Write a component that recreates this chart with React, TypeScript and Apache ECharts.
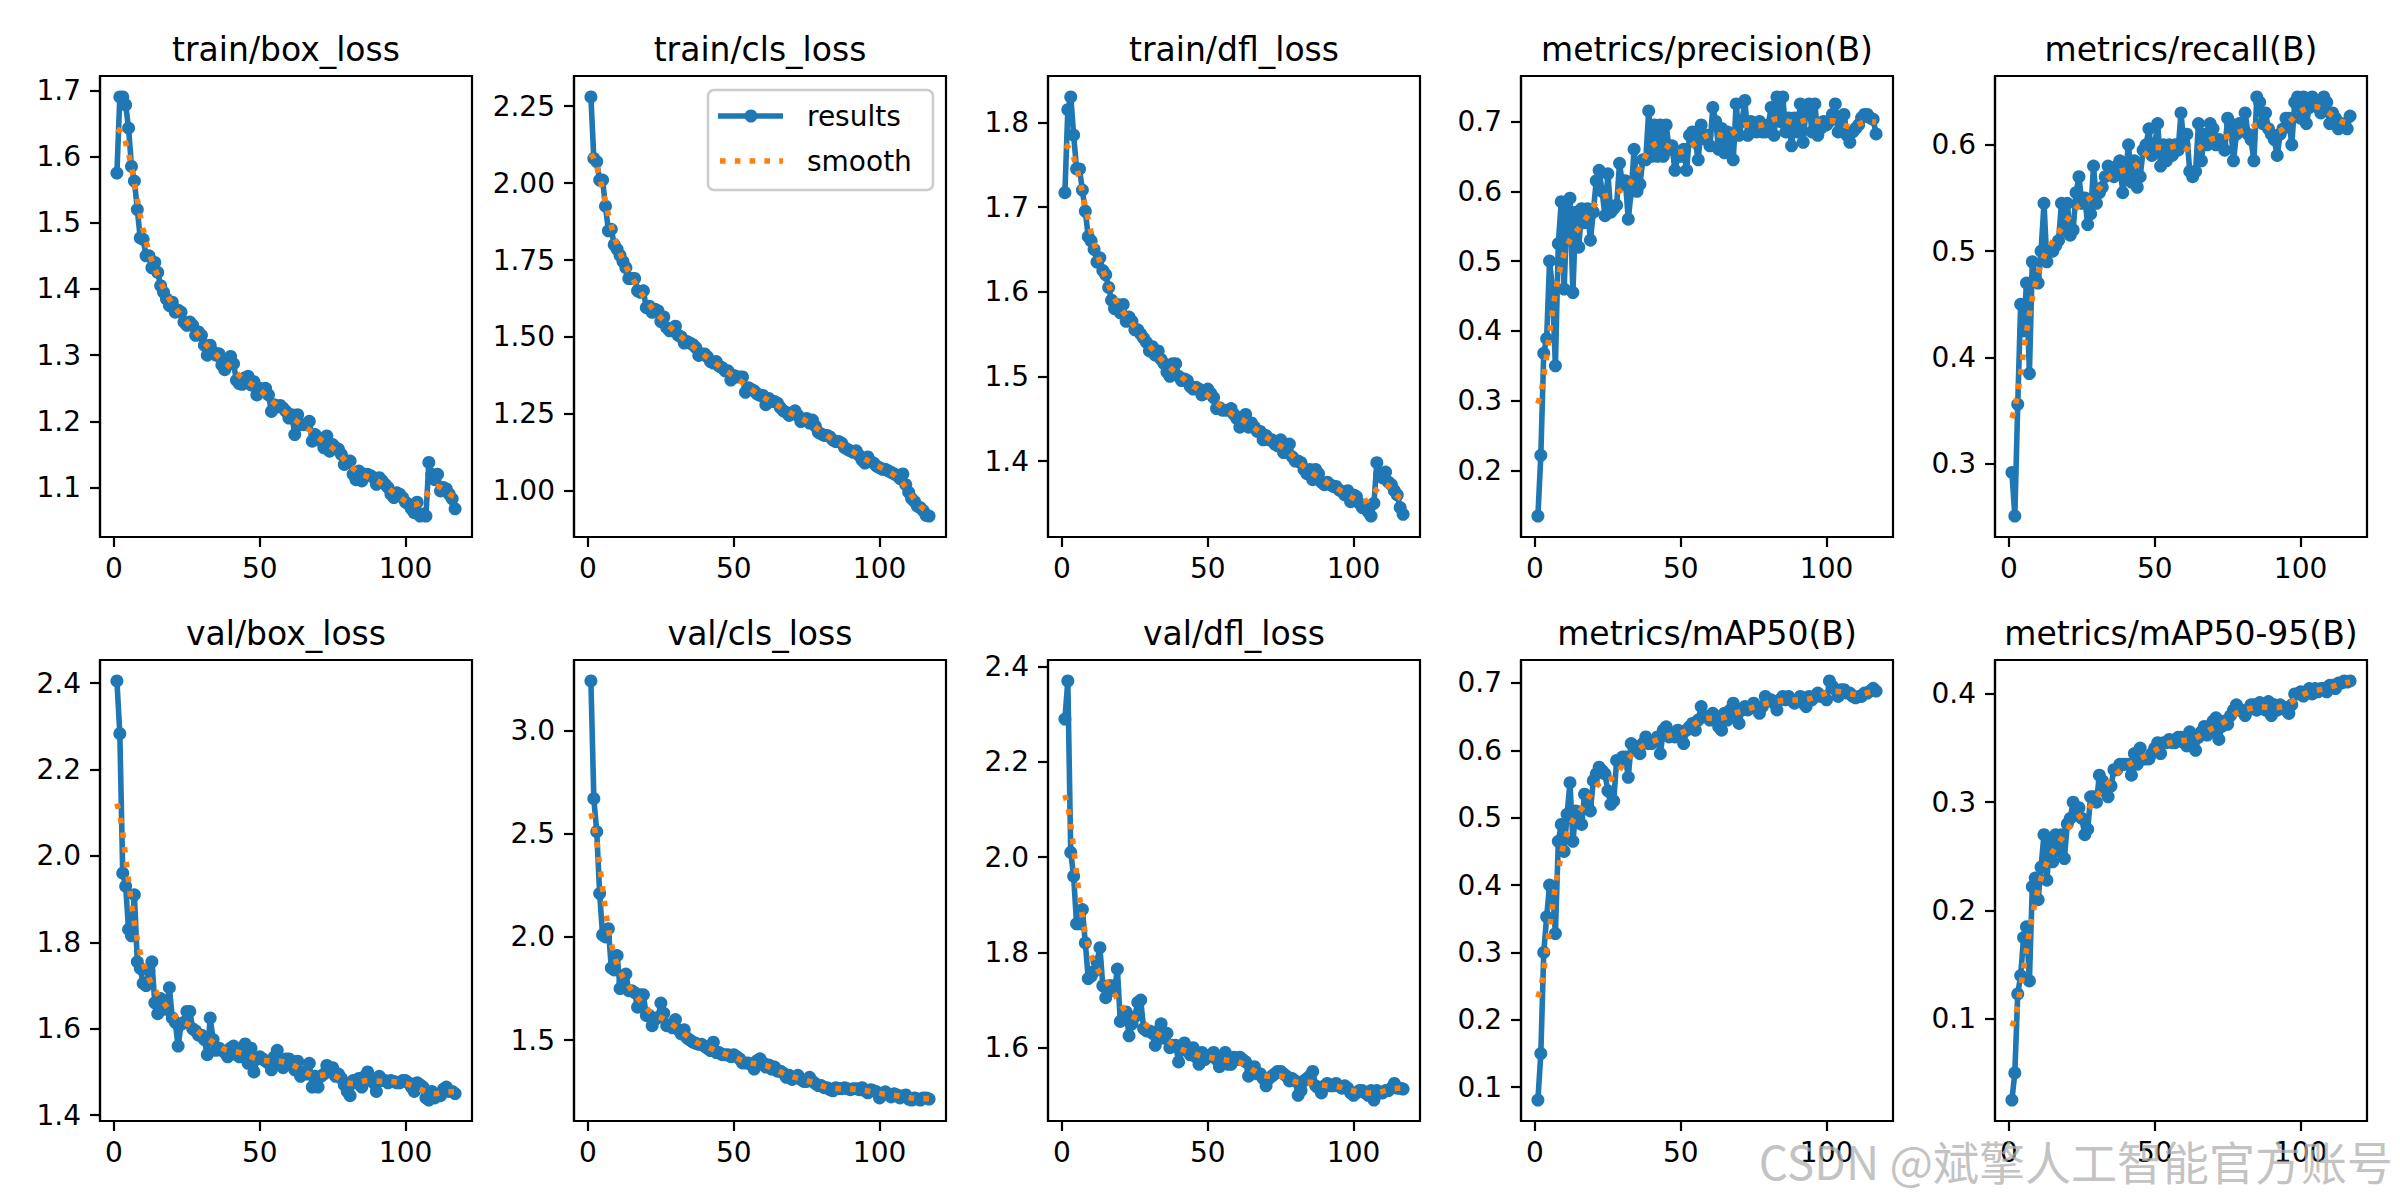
import React, { useEffect, useRef } from "react";
import * as echarts from "echarts";

// ---------- data ----------
const EPOCH_COUNT = 117;
const EPOCHS: number[] = Array.from({ length: EPOCH_COUNT }, (_, i) => i + 1);

const trainBoxLoss = [
  1.575, 1.69, 1.69, 1.678, 1.643, 1.585, 1.563, 1.52, 1.477, 1.475,
  1.45, 1.45, 1.432, 1.44, 1.425, 1.405, 1.395, 1.385, 1.375, 1.38,
  1.365, 1.368, 1.365, 1.35, 1.345, 1.35, 1.345, 1.33, 1.335, 1.33,
  1.315, 1.3, 1.315, 1.305, 1.3, 1.302, 1.285, 1.278, 1.29, 1.298,
  1.287, 1.262, 1.257, 1.256, 1.266, 1.268, 1.255, 1.26, 1.24, 1.25,
  1.248, 1.25, 1.24, 1.215, 1.225, 1.222, 1.224, 1.22, 1.215, 1.205,
  1.21, 1.18, 1.21, 1.195, 1.195, 1.195, 1.2, 1.17, 1.18, 1.175,
  1.17, 1.16, 1.178, 1.155, 1.165, 1.16, 1.158, 1.15, 1.135, 1.14,
  1.14, 1.12, 1.112, 1.125, 1.11, 1.12, 1.12, 1.118, 1.115, 1.105,
  1.115, 1.11, 1.105, 1.1, 1.09, 1.085, 1.092, 1.09, 1.085, 1.078,
  1.075, 1.068, 1.062, 1.078, 1.057, 1.06, 1.057, 1.138, 1.12, 1.112,
  1.12, 1.095, 1.1, 1.098, 1.09, 1.083, 1.068,
];

const trainClsLoss = [
  2.28, 2.08, 2.07, 2.01, 2.01, 1.925, 1.845, 1.85, 1.8, 1.785,
  1.765, 1.745, 1.725, 1.69, 1.69, 1.69, 1.65, 1.645, 1.65, 1.595,
  1.6, 1.58, 1.59, 1.585, 1.55, 1.565, 1.53, 1.52, 1.525, 1.535,
  1.505, 1.5, 1.48, 1.485, 1.48, 1.475, 1.465, 1.44, 1.445, 1.445,
  1.435, 1.42, 1.415, 1.42, 1.405, 1.4, 1.39, 1.39, 1.36, 1.375,
  1.37, 1.37, 1.37, 1.32, 1.335, 1.33, 1.325, 1.315, 1.31, 1.31,
  1.28, 1.3, 1.29, 1.29, 1.285, 1.27, 1.26, 1.255, 1.245, 1.25,
  1.26, 1.245, 1.225, 1.23, 1.235, 1.22, 1.23, 1.21, 1.19, 1.185,
  1.18, 1.18, 1.175, 1.165, 1.16, 1.16, 1.155, 1.14, 1.135, 1.13,
  1.125, 1.13, 1.115, 1.1, 1.09, 1.11, 1.095, 1.09, 1.08, 1.075,
  1.07, 1.07, 1.065, 1.06, 1.055, 1.05, 1.04, 1.055, 1.02, 0.995,
  0.975, 0.965, 0.95, 0.945, 0.935, 0.92, 0.918,
];

const trainDflLoss = [
  1.717, 1.815, 1.83, 1.785, 1.745, 1.745, 1.72, 1.695, 1.665, 1.66,
  1.65, 1.635, 1.64, 1.625, 1.62, 1.605, 1.59, 1.58, 1.585, 1.575,
  1.585, 1.565, 1.57, 1.565, 1.555, 1.555, 1.55, 1.545, 1.54, 1.53,
  1.535, 1.525, 1.53, 1.52, 1.515, 1.505, 1.5, 1.515, 1.515, 1.5,
  1.495, 1.497, 1.495, 1.488, 1.485, 1.487, 1.485, 1.478, 1.48, 1.485,
  1.48, 1.475, 1.462, 1.463, 1.46, 1.46, 1.46, 1.462, 1.455, 1.45,
  1.44, 1.452, 1.455, 1.44, 1.445, 1.44, 1.435, 1.435, 1.425, 1.43,
  1.425, 1.425, 1.42, 1.418, 1.425, 1.41, 1.415, 1.42, 1.405, 1.4,
  1.4, 1.398, 1.39, 1.385, 1.39, 1.378, 1.39, 1.385, 1.375, 1.372,
  1.375, 1.372, 1.37, 1.37, 1.366, 1.364, 1.36, 1.365, 1.352, 1.36,
  1.358, 1.35, 1.345, 1.345, 1.34, 1.335, 1.35, 1.398, 1.385, 1.38,
  1.387, 1.375, 1.372, 1.365, 1.36, 1.345, 1.337,
];

const precisionB = [
  0.135, 0.222, 0.368, 0.389, 0.5, 0.46, 0.35, 0.525, 0.585, 0.46,
  0.575, 0.59, 0.455, 0.57, 0.52, 0.575, 0.555, 0.575, 0.53, 0.57,
  0.615, 0.63, 0.6, 0.565, 0.625, 0.57, 0.575, 0.58, 0.64, 0.61,
  0.615, 0.56, 0.6, 0.66, 0.6, 0.61, 0.645, 0.645, 0.715, 0.65,
  0.695, 0.65, 0.695, 0.65, 0.695, 0.66, 0.665, 0.63, 0.65, 0.65,
  0.66, 0.63, 0.68, 0.685, 0.67, 0.645, 0.695, 0.675, 0.68, 0.665,
  0.72, 0.7, 0.66, 0.69, 0.655, 0.685, 0.67, 0.645, 0.725, 0.68,
  0.7, 0.73, 0.68, 0.7, 0.69, 0.685, 0.7, 0.685, 0.685, 0.695,
  0.72, 0.68, 0.735, 0.7, 0.735, 0.685, 0.705, 0.665, 0.705, 0.685,
  0.725, 0.67, 0.72, 0.725, 0.685, 0.725, 0.68, 0.69, 0.7, 0.695,
  0.7, 0.71, 0.725, 0.685, 0.7, 0.71, 0.68, 0.67, 0.685, 0.69,
  0.695, 0.705, 0.71, 0.71, 0.705, 0.703, 0.682,
];

const recallB = [
  0.292, 0.251, 0.356, 0.45, 0.425, 0.47, 0.385, 0.49, 0.475, 0.47,
  0.5, 0.545, 0.49, 0.5, 0.5, 0.505, 0.51, 0.545, 0.52, 0.545,
  0.515, 0.52, 0.555, 0.57, 0.545, 0.55, 0.525, 0.535, 0.58, 0.545,
  0.555, 0.56, 0.57, 0.58, 0.575, 0.57, 0.58, 0.585, 0.555, 0.575,
  0.6, 0.565, 0.585, 0.56, 0.57, 0.595, 0.6, 0.615, 0.59, 0.6,
  0.62, 0.58, 0.6, 0.585, 0.6, 0.59, 0.6, 0.595, 0.63, 0.6,
  0.61, 0.575, 0.57, 0.575, 0.62, 0.585, 0.61, 0.6, 0.62, 0.615,
  0.6, 0.605, 0.6, 0.595, 0.625, 0.62, 0.585, 0.61, 0.62, 0.615,
  0.63, 0.61, 0.605, 0.585, 0.645, 0.64, 0.62, 0.63, 0.615, 0.61,
  0.605, 0.59, 0.61, 0.615, 0.625, 0.625, 0.6, 0.64, 0.645, 0.625,
  0.645, 0.62, 0.635, 0.645, 0.64, 0.635, 0.63, 0.645, 0.64, 0.62,
  0.63, 0.625, 0.615, 0.62, 0.618, 0.615, 0.627,
];

const valBoxLoss = [
  2.405, 2.283, 1.96, 1.93, 1.83, 1.815, 1.91, 1.755, 1.74, 1.705,
  1.7, 1.735, 1.755, 1.66, 1.635, 1.67, 1.665, 1.645, 1.695, 1.625,
  1.615, 1.56, 1.61, 1.615, 1.64, 1.64, 1.6, 1.595, 1.585, 1.585,
  1.575, 1.54, 1.625, 1.575, 1.55, 1.555, 1.55, 1.545, 1.535, 1.555,
  1.56, 1.54, 1.535, 1.555, 1.565, 1.52, 1.555, 1.5, 1.53, 1.535,
  1.53, 1.525, 1.52, 1.505, 1.535, 1.55, 1.52, 1.51, 1.53, 1.53,
  1.525, 1.505, 1.525, 1.49, 1.5, 1.495, 1.52, 1.465, 1.49, 1.465,
  1.49, 1.495, 1.515, 1.5, 1.51, 1.49, 1.495, 1.485, 1.47, 1.455,
  1.445, 1.48, 1.475, 1.485, 1.465, 1.49, 1.5, 1.485, 1.475, 1.455,
  1.49, 1.48, 1.48, 1.475, 1.48, 1.478, 1.475, 1.475, 1.48, 1.48,
  1.475, 1.465, 1.455, 1.475, 1.47, 1.465, 1.44, 1.435, 1.455, 1.44,
  1.445, 1.445, 1.46, 1.465, 1.455, 1.455, 1.45,
];

const valClsLoss = [
  3.24, 2.67, 2.51, 2.21, 2.01, 2.0, 2.04, 1.85, 1.84, 1.91,
  1.75, 1.78, 1.82, 1.74, 1.74, 1.73, 1.66, 1.72, 1.72, 1.62,
  1.62, 1.57, 1.6, 1.61, 1.68, 1.63, 1.57, 1.575, 1.56, 1.6,
  1.55, 1.53, 1.55, 1.51, 1.5, 1.49, 1.485, 1.48, 1.48, 1.47,
  1.46, 1.45, 1.49, 1.44, 1.44, 1.43, 1.43, 1.43, 1.42, 1.43,
  1.42, 1.41, 1.39, 1.39, 1.39, 1.38, 1.36, 1.4, 1.41, 1.39,
  1.37, 1.38, 1.36, 1.37, 1.35, 1.35, 1.34, 1.32, 1.33, 1.31,
  1.32, 1.33, 1.31, 1.3, 1.3, 1.32, 1.3, 1.29, 1.28, 1.28,
  1.27, 1.27, 1.26, 1.255, 1.27, 1.265, 1.265, 1.27, 1.265, 1.26,
  1.265, 1.265, 1.26, 1.27, 1.255, 1.245, 1.26, 1.255, 1.25, 1.22,
  1.24, 1.25, 1.235, 1.225, 1.24, 1.235, 1.22, 1.23, 1.235, 1.215,
  1.21, 1.22, 1.215, 1.21, 1.22, 1.22, 1.215,
];

const valDflLoss = [
  2.29, 2.37, 2.01, 1.96, 1.86, 1.86, 1.89, 1.82, 1.745, 1.75,
  1.76, 1.78, 1.81, 1.73, 1.705, 1.73, 1.73, 1.72, 1.765, 1.655,
  1.66, 1.675, 1.625, 1.65, 1.665, 1.695, 1.7, 1.64, 1.635, 1.635,
  1.63, 1.605, 1.635, 1.65, 1.62, 1.63, 1.6, 1.605, 1.605, 1.57,
  1.595, 1.61, 1.595, 1.585, 1.6, 1.58, 1.565, 1.59, 1.575, 1.58,
  1.585, 1.59, 1.575, 1.56, 1.57, 1.59, 1.565, 1.565, 1.58, 1.575,
  1.58, 1.575, 1.57, 1.54, 1.555, 1.56, 1.545, 1.545, 1.535, 1.52,
  1.535, 1.54, 1.545, 1.55, 1.55, 1.545, 1.54, 1.53, 1.535, 1.53,
  1.5, 1.51, 1.53, 1.535, 1.54, 1.55, 1.52, 1.515, 1.505, 1.52,
  1.525, 1.52, 1.52, 1.525, 1.52, 1.515, 1.52, 1.515, 1.505, 1.5,
  1.505, 1.51, 1.51, 1.505, 1.5, 1.51, 1.49, 1.51, 1.505, 1.505,
  1.51, 1.51, 1.515, 1.525, 1.515, 1.515, 1.513,
];

const mAP50B = [
  0.081, 0.15, 0.3, 0.353, 0.4, 0.395, 0.328, 0.465, 0.49, 0.45,
  0.505, 0.552, 0.465, 0.51, 0.5, 0.49, 0.535, 0.52, 0.51, 0.555,
  0.565, 0.575, 0.57, 0.565, 0.54, 0.52, 0.525, 0.585, 0.585, 0.59,
  0.59, 0.56, 0.61, 0.6, 0.605, 0.595, 0.61, 0.62, 0.61, 0.61,
  0.615, 0.62, 0.595, 0.63, 0.635, 0.62, 0.625, 0.62, 0.63, 0.62,
  0.61, 0.63, 0.635, 0.64, 0.63, 0.645, 0.665, 0.65, 0.65, 0.645,
  0.655, 0.65, 0.635, 0.63, 0.655, 0.645, 0.66, 0.67, 0.655, 0.64,
  0.66, 0.665, 0.66, 0.665, 0.67, 0.665, 0.655, 0.665, 0.68, 0.675,
  0.675, 0.67, 0.66, 0.675, 0.68, 0.675, 0.68, 0.675, 0.67, 0.675,
  0.68, 0.67, 0.665, 0.68, 0.675, 0.68, 0.685, 0.68, 0.68, 0.675,
  0.703, 0.695, 0.69, 0.68, 0.69, 0.69, 0.685, 0.685, 0.68, 0.678,
  0.68, 0.68, 0.685, 0.685, 0.688, 0.692, 0.688,
];

const mAP5095B = [
  0.025, 0.05, 0.123, 0.14, 0.175, 0.185, 0.135, 0.222, 0.23, 0.21,
  0.24, 0.27, 0.228, 0.265, 0.245, 0.27, 0.255, 0.27, 0.248, 0.28,
  0.285, 0.3, 0.29, 0.295, 0.285, 0.27, 0.275, 0.305, 0.305, 0.3,
  0.325, 0.32, 0.31, 0.305, 0.315, 0.33, 0.33, 0.335, 0.335, 0.335,
  0.335, 0.325, 0.345, 0.335, 0.35, 0.34, 0.34, 0.34, 0.345, 0.35,
  0.355, 0.345, 0.355, 0.355, 0.358, 0.355, 0.355, 0.36, 0.36, 0.355,
  0.352, 0.365, 0.355, 0.348, 0.36, 0.365, 0.37, 0.362, 0.365, 0.375,
  0.378, 0.358, 0.37, 0.375, 0.372, 0.38, 0.385, 0.39, 0.385, 0.385,
  0.38, 0.385, 0.39, 0.39, 0.385, 0.392, 0.39, 0.385, 0.393, 0.38,
  0.39, 0.385, 0.39, 0.388, 0.385, 0.382, 0.39, 0.4, 0.4, 0.402,
  0.398, 0.402, 0.405, 0.4, 0.405, 0.402, 0.405, 0.405, 0.402, 0.408,
  0.408, 0.405, 0.41, 0.41, 0.412, 0.411, 0.412,
];

const PANEL_TITLES = [
  "train/box_loss", "train/cls_loss", "train/dfl_loss", "metrics/precision(B)", "metrics/recall(B)",
  "val/box_loss", "val/cls_loss", "val/dfl_loss", "metrics/mAP50(B)", "metrics/mAP50-95(B)",
];
const PANEL_VALUES = [
  trainBoxLoss, trainClsLoss, trainDflLoss, precisionB, recallB,
  valBoxLoss, valClsLoss, valDflLoss, mAP50B, mAP5095B,
];
const Y_TICKS = [
  [1.1, 1.2, 1.3, 1.4, 1.5, 1.6, 1.7],
  [1.0, 1.25, 1.5, 1.75, 2.0, 2.25],
  [1.4, 1.5, 1.6, 1.7, 1.8],
  [0.2, 0.3, 0.4, 0.5, 0.6, 0.7],
  [0.3, 0.4, 0.5, 0.6],
  [1.4, 1.6, 1.8, 2.0, 2.2, 2.4],
  [1.5, 2.0, 2.5, 3.0],
  [1.6, 1.8, 2.0, 2.2, 2.4],
  [0.1, 0.2, 0.3, 0.4, 0.5, 0.6, 0.7],
  [0.1, 0.2, 0.3, 0.4],
];
const Y_DECIMALS = [1, 2, 1, 1, 1, 1, 1, 1, 1, 1];
const X_TICKS = [0, 50, 100];
const LEGEND_LABELS = ["results", "smooth"];
const WATERMARK = "CSDN @斌擎人工智能官方账号";

// ---------- layout / style ----------
const W = 2400;
const H = 1200;
const COL_LEFT = [100, 574, 1048, 1521, 1995];
const ROW_TOP = [76, 660];
const BOX_W = 372;
const BOX_H = 461;
const BLUE = "#1f77b4";
const ORANGE = "#ff7f0e";
const FONT = "DejaVu Sans";
const LW = 5.6;

// same smoothing the original plotting code applies (gaussian, sigma 3, reflect edges)
function gaussianSmooth(y: number[], sigma = 3): number[] {
  const r = Math.round(4 * sigma);
  const w: number[] = [];
  let s = 0;
  for (let k = -r; k <= r; k++) {
    const v = Math.exp(-0.5 * (k / sigma) * (k / sigma));
    w.push(v);
    s += v;
  }
  const n = y.length;
  const idx = (i: number) => {
    while (i < 0 || i >= n) {
      if (i < 0) i = -i - 1;
      if (i >= n) i = 2 * n - i - 1;
    }
    return i;
  };
  return y.map((_, i) => {
    let acc = 0;
    for (let k = -r; k <= r; k++) acc += w[k + r] * y[idx(i + k)];
    return acc / s;
  });
}

function buildOption() {
  const grid: any[] = [];
  const xAxis: any[] = [];
  const yAxis: any[] = [];
  const series: any[] = [];
  const graphic: any[] = [];

  const xMin = EPOCHS[0] - 0.05 * (EPOCHS[EPOCHS.length - 1] - EPOCHS[0]);
  const xMax = EPOCHS[EPOCHS.length - 1] + 0.05 * (EPOCHS[EPOCHS.length - 1] - EPOCHS[0]);

  PANEL_VALUES.forEach((vals, i) => {
    const col = i % 5;
    const row = Math.floor(i / 5);
    const left = COL_LEFT[col];
    const top = ROW_TOP[row];
    const sm = gaussianSmooth(vals);
    const all = vals.concat(sm);
    const lo = Math.min(...all);
    const hi = Math.max(...all);
    const pad = 0.05 * (hi - lo);
    const dec = Y_DECIMALS[i];

    grid.push({
      left,
      top,
      width: BOX_W,
      height: BOX_H,
      show: true,
      borderColor: "#000",
      borderWidth: 2.2,
      backgroundColor: "#fff",
      containLabel: false,
    });
    xAxis.push({
      gridIndex: i,
      type: "value",
      min: xMin,
      max: xMax,
      axisLine: { show: true, onZero: false, lineStyle: { color: "#000", width: 2.2 } },
      axisTick: { show: true, length: 10, lineStyle: { color: "#000", width: 2.2 }, customValues: X_TICKS },
      axisLabel: { show: true, customValues: X_TICKS, color: "#000", fontSize: 28, fontFamily: FONT, margin: 17 },
      splitLine: { show: false },
    });
    yAxis.push({
      gridIndex: i,
      type: "value",
      min: lo - pad,
      max: hi + pad,
      axisLine: { show: true, onZero: false, lineStyle: { color: "#000", width: 2.2 } },
      axisTick: { show: true, length: 10, lineStyle: { color: "#000", width: 2.2 }, customValues: Y_TICKS[i] },
      axisLabel: {
        show: true,
        customValues: Y_TICKS[i],
        color: "#000",
        fontSize: 28,
        fontFamily: FONT,
        margin: 19,
        formatter: (v: number) => v.toFixed(dec),
      },
      splitLine: { show: false },
    });
    series.push({
      name: LEGEND_LABELS[0],
      type: "line",
      xAxisIndex: i,
      yAxisIndex: i,
      data: EPOCHS.map((e, j) => [e, vals[j]]),
      symbol: "circle",
      symbolSize: 13,
      showSymbol: true,
      showAllSymbol: true,
      lineStyle: { color: BLUE, width: LW },
      itemStyle: { color: BLUE, borderWidth: 0 },
      silent: true,
      z: 2,
    });
    series.push({
      name: LEGEND_LABELS[1],
      type: "line",
      xAxisIndex: i,
      yAxisIndex: i,
      data: EPOCHS.map((e, j) => [e, sm[j]]),
      symbol: "none",
      lineStyle: { color: ORANGE, width: LW, type: [5.6, 9.2], cap: "butt" },
      silent: true,
      z: 3,
    });
    graphic.push({
      type: "text",
      x: left + BOX_W / 2,
      y: top - 27,
      style: {
        text: PANEL_TITLES[i],
        fill: "#000",
        font: `33px "${FONT}"`,
        align: "center",
        verticalAlign: "middle",
      },
      silent: true,
      z: 10,
    });
  });

  // legend (upper right of the train/cls_loss panel)
  const lx = 708;
  const ly = 90;
  graphic.push({
    type: "rect",
    shape: { x: lx, y: ly, width: 225, height: 100, r: 6 },
    style: { fill: "rgba(255,255,255,0.8)", stroke: "#cccccc", lineWidth: 2.6 },
    silent: true,
    z: 20,
  });
  graphic.push({
    type: "line",
    shape: { x1: lx + 10, y1: ly + 26, x2: lx + 75, y2: ly + 26 },
    style: { stroke: BLUE, lineWidth: LW },
    silent: true,
    z: 21,
  });
  graphic.push({
    type: "circle",
    shape: { cx: lx + 43, cy: ly + 26, r: 6.5 },
    style: { fill: BLUE },
    silent: true,
    z: 22,
  });
  graphic.push({
    type: "line",
    shape: { x1: lx + 12, y1: ly + 71, x2: lx + 75, y2: ly + 71 },
    style: { stroke: ORANGE, lineWidth: LW, lineDash: [5.6, 9.2], lineCap: "butt" },
    silent: true,
    z: 21,
  });
  LEGEND_LABELS.forEach((t, k) => {
    graphic.push({
      type: "text",
      x: lx + 99,
      y: ly + 26 + k * 45,
      style: { text: t, fill: "#000", font: `28px "${FONT}"`, align: "left", verticalAlign: "middle" },
      silent: true,
      z: 22,
    });
  });

  // watermark
  graphic.push({
    type: "text",
    x: 2393,
    y: 1160,
    style: {
      text: WATERMARK,
      fill: "rgba(175,175,175,0.75)",
      font: `46px "Noto Sans CJK SC"`,
      align: "right",
      verticalAlign: "middle",
    },
    silent: true,
    z: 50,
  });

  return {
    animation: false,
    backgroundColor: "#fff",
    grid,
    xAxis,
    yAxis,
    series,
    graphic,
  };
}

export default function App() {
  const ref = useRef<HTMLDivElement>(null);
  useEffect(() => {
    if (!ref.current) return;
    const chart = echarts.init(ref.current, undefined, { renderer: "svg", width: W, height: H });
    chart.setOption(buildOption() as any);
    return () => chart.dispose();
  }, []);
  return (
    <div
      ref={ref}
      style={{ position: "absolute", left: 0, top: 0, width: W, height: H, background: "#fff" }}
    />
  );
}
